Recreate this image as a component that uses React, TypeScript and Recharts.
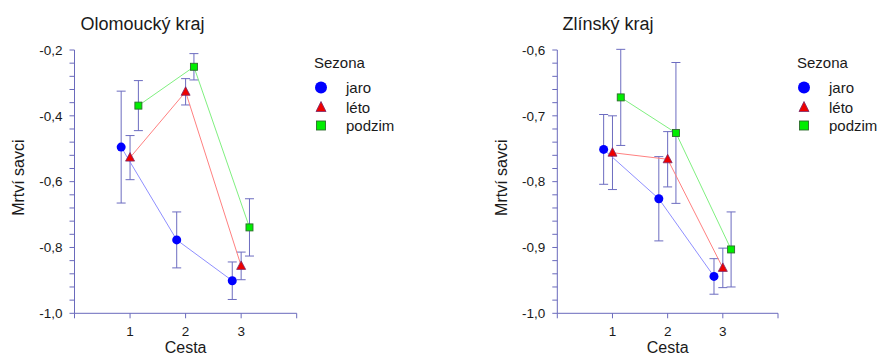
import React from "react";
import { ScatterChart, Scatter, XAxis, YAxis, ErrorBar, Legend, Label } from "recharts";

// x positions along "Cesta"
const cesta = [1, 2, 3];
const cestaLabels = ["1", "2", "3"];
const sezony = ["jaro", "léto", "podzim"];

// Olomoucký kraj – means and error half-widths per season
const olJaro = [-0.495, -0.777, -0.901];
const olJaroErr = [0.17, 0.085, 0.057];
const olLeto = [-0.527, -0.327, -0.856];
const olLetoErr = [0.067, 0.04, 0.042];
const olPodzim = [-0.369, -0.251, -0.739];
const olPodzimErr = [0.076, 0.04, 0.087];
const olMajorTicks = [-1.0, -0.8, -0.6, -0.4, -0.2];

// Zlínský kraj
const zlJaro = [-0.751, -0.826, -0.944];
const zlJaroErr = [0.053, 0.064, 0.027];
const zlLeto = [-0.756, -0.766, -0.931];
const zlLetoErr = [0.056, 0.042, 0.03];
const zlPodzim = [-0.672, -0.726, -0.903];
const zlPodzimErr = [0.073, 0.107, 0.057];
const zlMajorTicks = [-1.0, -0.9, -0.8, -0.7, -0.6];

const FONT = "'Liberation Sans', Arial, sans-serif";
const AXIS = "#6a6abc";
const ERR = "#6c6cc0";
const TEXT = "#1a1a1a";

// small horizontal dodge so the seasons don't overlap
const dodge = [-0.16, 0, 0.15];

const toPoints = (vals: number[], errs: number[], shift: number) =>
  cesta.map((c, i) => ({ x: c + shift, y: vals[i], err: errs[i] }));

const JaroShape = (p: any) => <circle cx={p.cx} cy={p.cy} r={4.5} fill="#0000ff" />;
const LetoShape = (p: any) => (
  <polygon
    points={`${p.cx},${p.cy - 5} ${p.cx + 4.5},${p.cy + 3.5} ${p.cx - 4.5},${p.cy + 3.5}`}
    fill="#ee0000"
    stroke="#7a2a6a"
    strokeWidth={0.8}
  />
);
const PodzimShape = (p: any) => (
  <rect x={p.cx - 3.5} y={p.cy - 3.5} width={7} height={7} fill="#00ee00" stroke="#2d6b2d" strokeWidth={0.9} />
);

const styles = [
  { shape: JaroShape, line: "#8f8fff" },
  { shape: LetoShape, line: "#ff8080" },
  { shape: PodzimShape, line: "#80f080" },
];

function LegendBox() {
  const rows = [43, 62.5, 81];
  return (
    <svg width={120} height={95} style={{ fontFamily: FONT }}>
      <text x={14} y={18} fontSize={15} fill={TEXT}>Sezona</text>
      {sezony.map((s, i) => {
        const cy = rows[i] - 5.5;
        const cx = 21;
        return (
          <g key={s}>
            {i === 0 && <circle cx={cx} cy={cy} r={6} fill="#0000ff" />}
            {i === 1 && (
              <polygon
                points={`${cx},${cy - 5.5} ${cx + 5},${cy + 4.5} ${cx - 5},${cy + 4.5}`}
                fill="#ee0000"
                stroke="#7a2a6a"
                strokeWidth={0.8}
              />
            )}
            {i === 2 && (
              <rect x={cx - 4.5} y={cy - 4.5} width={9} height={9} fill="#00ee00" stroke="#2d6b2d" strokeWidth={0.9} />
            )}
            <text x={46} y={rows[i]} fontSize={15} fill={TEXT}>{s}</text>
          </g>
        );
      })}
    </svg>
  );
}

type PanelProps = {
  series: { vals: number[]; errs: number[] }[];
  majors: number[];
  minorStep: number;
  width: number;
  marginLeft: number;
  marginRight: number;
  legendLeft: number;
};

function Panel({ series, majors, minorStep, width, marginLeft, marginRight, legendLeft }: PanelProps) {
  const lo = majors[0];
  const hi = majors[majors.length - 1];
  const n = Math.round((hi - lo) / minorStep);
  const yTicks = Array.from({ length: n + 1 }, (_, i) => +(lo + i * minorStep).toFixed(3));
  const isMajor = (v: number) => majors.some((m) => Math.abs(m - v) < 1e-6);
  const fmtY = (v: number) => (isMajor(v) ? v.toFixed(1).replace(".", ",") : "");
  const xTicks = [0, ...cesta, 4];
  const fmtX = (v: number) => {
    const i = cesta.indexOf(v);
    return i >= 0 ? cestaLabels[i] : "";
  };

  return (
    <ScatterChart
      width={width}
      height={356}
      margin={{ top: 50, right: marginRight, bottom: 2.7, left: marginLeft }}
      style={{ fontFamily: FONT }}
    >
      <XAxis
        type="number"
        dataKey="x"
        domain={[0, 4]}
        ticks={xTicks}
        tickFormatter={fmtX}
        interval={0}
        height={40}
        tickSize={5}
        tickMargin={8}
        stroke={AXIS}
        tick={{ fill: TEXT, fontSize: 13.5 }}
        allowDataOverflow
      >
        <Label
          content={(p: any) => {
            const vb = p.viewBox;
            return (
              <text x={vb.x + vb.width / 2} y={vb.y + 40} textAnchor="middle" fontSize={16} fill={TEXT}>
                Cesta
              </text>
            );
          }}
        />
      </XAxis>
      <YAxis
        type="number"
        dataKey="y"
        domain={[lo, hi]}
        ticks={yTicks}
        tickFormatter={fmtY}
        interval={0}
        width={60}
        tickSize={5}
        tickMargin={7}
        stroke={AXIS}
        tick={{ fill: TEXT, fontSize: 13.5 }}
        allowDataOverflow
      >
        <Label
          content={(p: any) => {
            const vb = p.viewBox;
            const x = vb.x + vb.width - 56;
            const y = vb.y + vb.height / 2 - 4;
            return (
              <text
                x={x}
                y={y}
                transform={`rotate(-90 ${x} ${y})`}
                textAnchor="middle"
                dominantBaseline="central"
                fontSize={16}
                fill={TEXT}
              >
                Mrtví savci
              </text>
            );
          }}
        />
      </YAxis>
      {series.map((s, i) => (
        <Scatter
          key={sezony[i]}
          name={sezony[i]}
          data={toPoints(s.vals, s.errs, dodge[i])}
          shape={styles[i].shape}
          line={{ stroke: styles[i].line, strokeWidth: 1 }}
          lineType="joint"
          isAnimationActive={false}
        >
          <ErrorBar dataKey="err" direction="y" width={4.5} stroke={ERR} strokeWidth={1} />
        </Scatter>
      ))}
      <Legend
        layout="vertical"
        align="center"
        verticalAlign="middle"
        wrapperStyle={{ left: legendLeft, top: 50, width: 120 }}
        content={() => <LegendBox />}
      />
    </ScatterChart>
  );
}

export default function App() {
  return (
    <div style={{ position: "absolute", left: 0, top: 0, width: 881, height: 356, background: "#fff", fontFamily: FONT }}>
      <div style={{ position: "absolute", left: 0, top: 0 }}>
        <Panel
          series={[
            { vals: olJaro, errs: olJaroErr },
            { vals: olLeto, errs: olLetoErr },
            { vals: olPodzim, errs: olPodzimErr },
          ]}
          majors={olMajorTicks}
          minorStep={0.04}
          width={440}
          marginLeft={14.5}
          marginRight={143.3}
          legendLeft={300}
        />
      </div>
      <div style={{ position: "absolute", left: 440, top: 0 }}>
        <Panel
          series={[
            { vals: zlJaro, errs: zlJaroErr },
            { vals: zlLeto, errs: zlLetoErr },
            { vals: zlPodzim, errs: zlPodzimErr },
          ]}
          majors={zlMajorTicks}
          minorStep={0.02}
          width={441}
          marginLeft={57.3}
          marginRight={103}
          legendLeft={343}
        />
      </div>
      <svg width={881} height={40} style={{ position: "absolute", left: 0, top: 0, pointerEvents: "none" }}>
        <text x={142.5} y={30} textAnchor="middle" fontSize={18} fill={TEXT} fontFamily={FONT}>
          Olomoucký kraj
        </text>
        <text x={608} y={30} textAnchor="middle" fontSize={18} fill={TEXT} fontFamily={FONT}>
          Zlínský kraj
        </text>
      </svg>
    </div>
  );
}
